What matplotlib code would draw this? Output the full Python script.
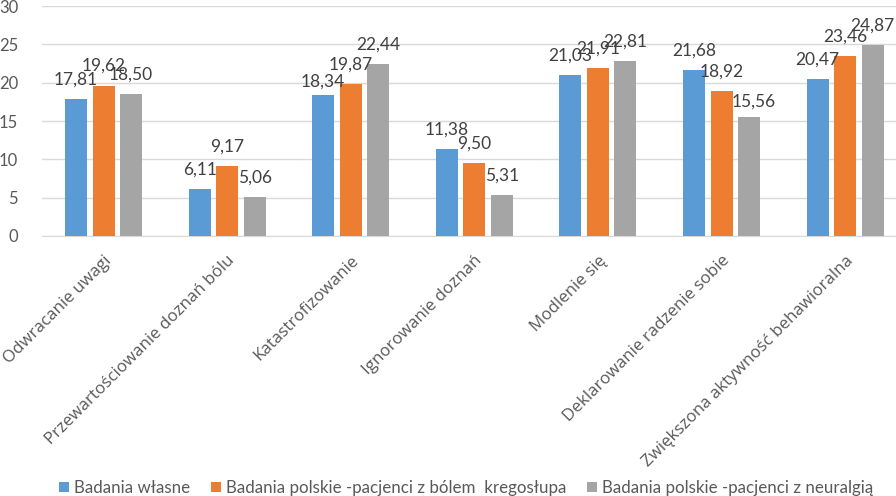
import matplotlib
matplotlib.use('Agg')
import matplotlib.pyplot as plt
import numpy as np

# dane z wykresu
kategorie = ['Odwracanie uwagi', 'Przewartościowanie doznań bólu', 'Katastrofizowanie',
             'Ignorowanie doznań', 'Modlenie się', 'Deklarowanie radzenie sobie',
             'Zwiększona aktywność behawioralna']
badania_wlasne = [17.81, 6.11, 18.34, 11.38, 21.03, 21.68, 20.47]
kregoslup = [19.62, 9.17, 19.87, 9.50, 21.91, 18.92, 23.46]
neuralgia = [18.50, 5.06, 22.44, 5.31, 22.81, 15.56, 24.87]
serie_nazwy = ['Badania własne',
               'Badania polskie -pacjenci z bólem  kregosłupa',
               'Badania polskie -pacjenci z neuralgią']
y_ticks = [0, 5, 10, 15, 20, 25, 30]

kolory = ['#5B9BD5', '#ED7D31', '#A5A5A5']
# przesunięcia etykiet (px), tam gdzie Excel je rozsunął
nudge = {(0, 2): (0, -6), (4, 0): (-12, 0), (4, 2): (11, 0), (2, 5): (5, -4)}

fig = plt.figure(figsize=(8.96, 4.96), dpi=100)
ax = fig.add_axes([41.7 / 896, 1 - 236 / 496, 865.3 / 896, 230 / 496])

x = np.arange(len(kategorie))
step = 0.2225
width = 0.178
for i, (vals, kol, nazwa) in enumerate(zip([badania_wlasne, kregoslup, neuralgia], kolory, serie_nazwy)):
    pos = x + (i - 1) * step
    ax.bar(pos, vals, width=width, color=kol, label=nazwa, zorder=3)
    for j, v in enumerate(vals):
        dx, dy = nudge.get((i, j), (0, 0))
        ax.annotate(f'{v:.2f}'.replace('.', ','), xy=(pos[j], v),
                    xytext=((dx) * 0.72, (19.5 + dy) * 0.72), textcoords='offset points',
                    ha='center', va='center', fontsize=12.5, color='#404040',
                    family='Lato', zorder=4)

ax.set_xlim(-0.5, len(kategorie) - 0.5)
ax.set_ylim(0, 30)
ax.set_yticks(y_ticks)
ax.set_yticklabels([str(t) for t in y_ticks], fontsize=12, color='#595959', family='Lato')
ax.yaxis.grid(True, color='#D9D9D9', linewidth=1, zorder=0)
ax.tick_params(axis='both', length=0)
ax.tick_params(axis='y', pad=17)
for s in ['top', 'right', 'left']:
    ax.spines[s].set_visible(False)
ax.spines['bottom'].set_color('#D9D9D9')

ax.set_xticks(x)
ax.set_xticklabels(kategorie, rotation=45, ha='right', rotation_mode='anchor',
                   fontsize=12.2, color='#595959', family='Open Sans')
ax.tick_params(axis='x', pad=12)

fig.legend(loc='center', bbox_to_anchor=(0.52, 1 - 488 / 496), ncol=3, frameon=False,
           prop={'family': 'Lato', 'size': 12.2}, labelcolor='#595959',
           handlelength=0.6, handleheight=0.6, handletextpad=0.3, columnspacing=1.2)

fig.savefig('out.png', dpi=100)
